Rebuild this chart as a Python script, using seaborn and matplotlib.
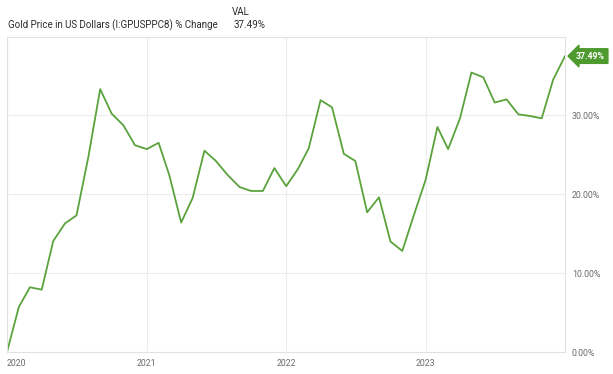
import matplotlib
matplotlib.use("Agg")
import matplotlib.pyplot as plt
import numpy as np
import pandas as pd
import seaborn as sns

# monthly % change of gold price since Jan 2020
start_month = "2020-01-01"
pct_change = [0.0, 5.7, 8.2, 7.9, 14.05, 16.3, 17.3, 24.7, 33.3, 30.2, 28.7, 26.2,
              25.7, 26.5, 22.4, 16.4, 19.5, 25.5, 24.2, 22.4, 20.9, 20.4, 20.4, 23.3,
              21.0, 23.2, 25.8, 31.9, 31.0, 25.1, 24.2, 17.7, 19.6, 14.0, 12.8, 17.3,
              21.8, 28.5, 25.7, 29.6, 35.4, 34.8, 31.6, 32.0, 30.1, 29.9, 29.6, 34.5,
              37.49]
year_ticks = ["2020", "2021", "2022", "2023"]
pct_ticks = [0, 10, 20, 30]
series_name = "Gold Price in US Dollars (I:GPUSPPC8) % Change"

df = pd.DataFrame({
    "date": pd.date_range(start_month, periods=len(pct_change), freq="MS"),
    "pct": pct_change,
})

sns.set_theme(style="white")
plt.rcParams["font.family"] = ["Roboto", "DejaVu Sans"]

green = "#5aa33c"
grid_c = "#ededed"
tick_c = "#6b6b6b"

fig = plt.figure(figsize=(6.13, 3.74), dpi=100)
ax = fig.add_axes([0.0114, 0.0588, 0.9103, 0.8422])

sns.lineplot(data=df, x="date", y="pct", ax=ax, color=green, linewidth=1.3)

ax.set_xlim(pd.Timestamp("2020-01-01"), pd.Timestamp("2024-01-01"))
ax.set_ylim(0, 39.9)

ax.set_xticks([pd.Timestamp(y + "-01-01") for y in year_ticks])
ax.set_xticklabels(year_ticks)
ax.set_yticks(pct_ticks)
ax.set_yticklabels([f"{v:.2f}%" for v in pct_ticks])
ax.yaxis.tick_right()
ax.tick_params(axis="both", length=0, labelsize=6.3, colors=tick_c)
ax.tick_params(axis="y", pad=5)
ax.tick_params(axis="x", pad=5)
for lab in ax.get_xticklabels():
    lab.set_ha("center")
ax.get_xticklabels()[0].set_ha("left")
for lab in ax.get_yticklabels():
    lab.set_va("center_baseline")

ax.grid(True, color=grid_c, linewidth=0.8)
for s in ax.spines.values():
    s.set_color("#e2e2e2")
    s.set_linewidth(0.8)
ax.set_xlabel("")
ax.set_ylabel("")

# end value callout
last_date = df["date"].iloc[-1]
last_val = pct_change[-1]
ax.annotate(f"{last_val:.2f}%", xy=(last_date, last_val), xytext=(8, 0),
            textcoords="offset points", ha="left", va="center",
            fontsize=6.3, color="white", fontweight="bold", annotation_clip=False,
            bbox=dict(boxstyle="larrow,pad=0.32", fc="#4e9a2e", ec="#4e9a2e"))

# header
fig.text(8 / 613, 1 - 25 / 374, series_name, fontsize=7, color="#2b2b2b",
         ha="left", va="center")
fig.text(250 / 613, 1 - 12 / 374, "VAL", fontsize=7, color="#2b2b2b",
         ha="right", va="center")
fig.text(265 / 613, 1 - 25 / 374, f"{last_val:.2f}%", fontsize=7, color="#2b2b2b",
         ha="right", va="center")

fig.savefig("out.png", dpi=100, facecolor="white")
